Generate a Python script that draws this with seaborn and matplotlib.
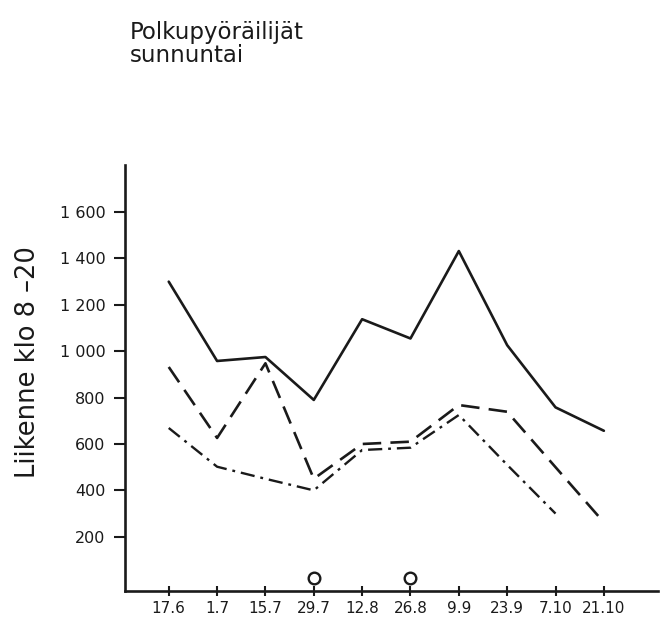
"""
Polkupyöräilijät, sunnuntai - liikenne klo 8-20
"""

import numpy as np
import pandas as pd
import matplotlib

matplotlib.use("Agg")
import matplotlib.pyplot as plt
import seaborn as sns

# dates (x categories)
dates = ["17.6", "1.7", "15.7", "29.7", "12.8", "26.8", "9.9", "23.9", "7.10", "21.10"]

# three series
solid_vals = [1300, 958, 975, 790, 1138, 1055, 1432, 1026, 758, 657]
dashed_vals = [932, 626, 948, 450, 600, 610, 768, 739, 500, 262]
dashdot_vals = [669, 502, 450, 400, 574, 584, 725, 510, 300]

# rainy days marked with circles
circle_dates = ["29.7", "26.8"]
circle_vals = [20, 20]

y_ticks = [200, 400, 600, 800, 1000, 1200, 1400, 1600]
y_tick_labels = ["200", "400", "600", "800", "1 000", "1 200", "1 400", "1 600"]

sns.set_style("ticks")
plt.rcParams["font.family"] = ["DejaVu Sans"]

pos = {d: i for i, d in enumerate(dates)}

df_solid = pd.DataFrame({"x": [pos[d] for d in dates], "y": solid_vals})
df_dashed = pd.DataFrame({"x": [pos[d] for d in dates], "y": dashed_vals})
df_dashdot = pd.DataFrame(
    {"x": [pos[d] for d in dates[: len(dashdot_vals)]], "y": dashdot_vals}
)
df_circ = pd.DataFrame({"x": [pos[d] for d in circle_dates], "y": circle_vals})

fig = plt.figure(figsize=(6.6, 6.38), dpi=100)
ax = fig.add_axes([0.189, 0.074, 0.808, 0.667])

sns.lineplot(data=df_solid, x="x", y="y", ax=ax, color="#1a1a1a", lw=1.9)
sns.lineplot(data=df_dashed, x="x", y="y", ax=ax, color="#1a1a1a", lw=1.9)
ax.lines[-1].set_dashes([7, 3.5])
sns.lineplot(data=df_dashdot, x="x", y="y", ax=ax, color="#1a1a1a", lw=1.7)
ax.lines[-1].set_dashes([6, 2.5, 1.2, 2.5])

sns.scatterplot(data=df_circ, x="x", y="y", ax=ax, marker="o", s=70,
                facecolor="white", edgecolor="#1a1a1a", linewidth=1.7, zorder=5)

ax.set_xlim(-0.91, 10.12)
ax.set_ylim(-33, 1802)

ax.set_xticks(range(len(dates)))
ax.set_xticklabels(dates, fontsize=11)
ax.set_yticks(y_ticks)
ax.set_yticklabels(y_tick_labels, fontsize=11.5)

ax.tick_params(axis="x", direction="inout", length=7, width=1.5, pad=4,
               colors="#1a1a1a")
ax.tick_params(axis="y", direction="out", length=8, width=1.5, pad=6,
               colors="#1a1a1a")

for side in ["top", "right"]:
    ax.spines[side].set_visible(False)
for side in ["left", "bottom"]:
    ax.spines[side].set_linewidth(1.9)
    ax.spines[side].set_color("#1a1a1a")

ax.set_xlabel("")
ax.set_ylabel("")

fig.text(0.042, 0.432, "Liikenne klo 8 –20", rotation=90, fontsize=18.5,
         ha="center", va="center", color="#1a1a1a")

fig.text(0.197, 0.967, "Polkupyöräilijät\nsunnuntai", fontsize=16.5,
         ha="left", va="top", linespacing=1.0, color="#1a1a1a")

fig.savefig("out.png", dpi=100, facecolor="white")
